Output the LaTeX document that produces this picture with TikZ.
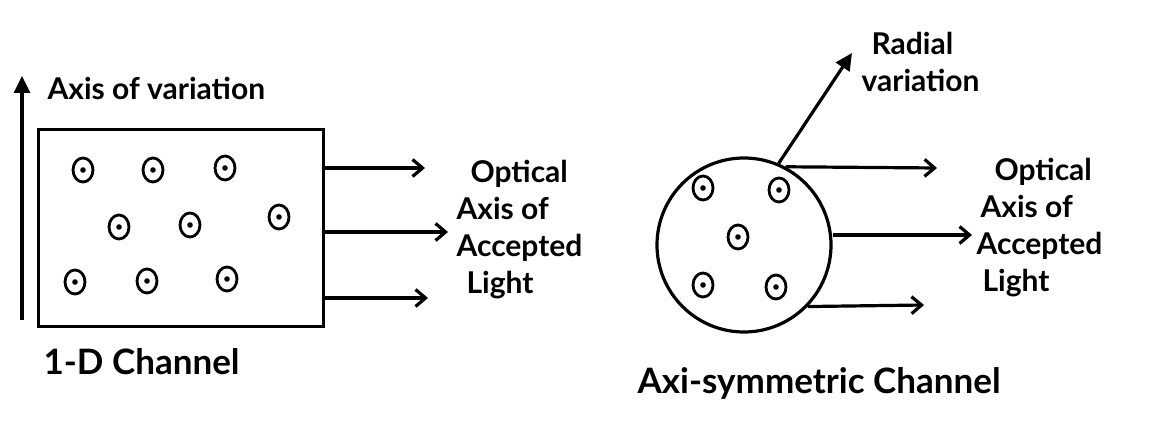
\documentclass[tikz,border=0pt]{standalone}
\usepackage{fontspec}
\setmainfont{Lato}
\usetikzlibrary{arrows.meta,shapes.geometric}
\begin{document}
\begin{tikzpicture}[x=1pt,y=-1pt,line width=3.2pt,
  hole/.style={draw,ellipse,line width=2.8pt,minimum width=20pt,minimum height=24pt,inner sep=0pt,
    path picture={\fill (path picture bounding box.center) circle (2.8pt);}},
  lightarrow/.style={-{Straight Barb[length=10pt,width=17pt,line width=3.2pt]}},
  bigarrow/.style={-{Triangle[length=17pt,width=16pt]}},
  lbl/.style={font=\bfseries\fontsize{30}{37}\selectfont,inner sep=0pt},
  biglbl/.style={font=\bfseries\fontsize{35}{40}\selectfont,inner sep=0pt}]
\useasboundingbox (0,0) rectangle (1151,427);
% ---- left: 1-D channel
\node[draw,minimum width=285pt,minimum height=197pt,anchor=north west,inner sep=0pt] (box) at (37,128) {};
\coordinate (axbot) at (22,320);
\coordinate (axtop) at (22,76);
\draw[bigarrow] (axbot) -- (axtop);
\node[lbl,anchor=west] (axlbl) at (46,88) {Axis of variation};
\node[hole] (h1) at (83,170) {};
\node[hole] (h2) at (153,170) {};
\node[hole] (h3) at (225,168) {};
\node[hole] (h4) at (119,227) {};
\node[hole] (h5) at (190,225) {};
\node[hole] (h6) at (279,217) {};
\node[hole] (h7) at (75,282) {};
\node[hole] (h8) at (147,281) {};
\node[hole] (h9) at (227,279) {};
\coordinate (la1) at (425,168);
\coordinate (la2) at (448,232);
\coordinate (la3) at (428,298);
\draw[lightarrow] (box.east |- la1) -- (la1);
\draw[lightarrow] (box.east |- la2) -- (la2);
\draw[lightarrow] (box.east |- la3) -- (la3);
\node[lbl,align=left,anchor=west] (optL) at (455,230) {\hspace*{14pt}Optical\\Axis of\\Accepted\\\hspace*{10pt}Light};
\node[biglbl,anchor=west] (chL) at (42,362) {1-D Channel};
% ---- right: axi-symmetric channel
\node[draw,circle,minimum size=174pt,inner sep=0pt] (disc) at (744,245) {};
\node[hole] (k1) at (703,188) {};
\node[hole] (k2) at (779,190) {};
\node[hole] (k3) at (738,237) {};
\node[hole] (k4) at (703,285) {};
\node[hole] (k5) at (776,287) {};
\coordinate (radtip) at (852,53);
\draw[bigarrow] (disc.67) -- (radtip);
\node[lbl,align=left,anchor=west] (radlbl) at (860,62) {\hspace*{10pt}Radial\\variation};
\coordinate (ra1) at (937,168);
\coordinate (ra2) at (972,235);
\coordinate (ra3) at (924,305);
\draw[lightarrow] (disc.62) -- (ra1);
\draw[lightarrow] (disc.east |- ra2) -- (ra2);
\draw[lightarrow] (disc.-44) -- (ra3);
\node[lbl,align=left,anchor=west] (optR) at (975,228) {\hspace*{18pt}Optical\\\hspace*{4pt}Axis of\\Accepted\\\hspace*{6pt}Light};
\node[biglbl,anchor=west] (chR) at (636,383) {Axi-symmetric Channel};
\end{tikzpicture}
\end{document}
